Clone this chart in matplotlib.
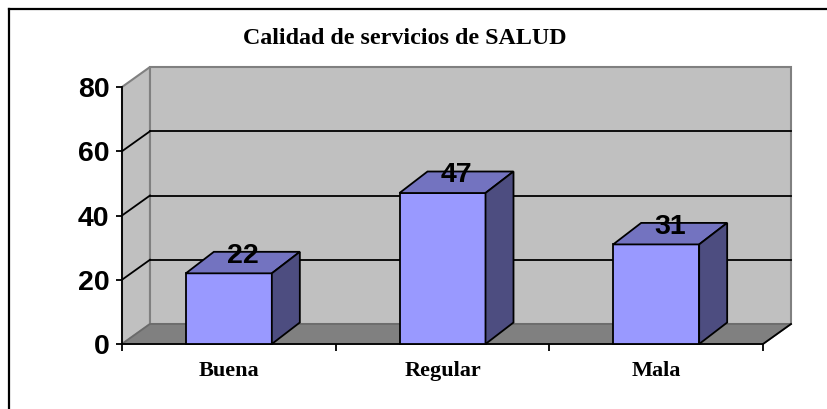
import matplotlib
matplotlib.use("Agg")
import matplotlib.pyplot as plt
from matplotlib.patches import Polygon
from matplotlib.lines import Line2D

categories = ["Buena", "Regular", "Mala"]
values = [22, 47, 31]
yticks = [0, 20, 40, 60, 80]
title = "Calidad de servicios de SALUD"

W, H = 827, 409
fig = plt.figure(figsize=(W / 100, H / 100), dpi=100)
fig.patch.set_facecolor("white")

# front plane of the 3D plot in pixels
L, R, B, T = 122, 763, 344, 87
ax = fig.add_axes([L / W, (H - B) / H, (R - L) / W, (B - T) / H])
ax.patch.set_visible(False)
n = len(categories)
ax.set_xlim(0, n)
ax.set_ylim(0, 80)

pxu_x = (R - L) / n
pxu_y = (B - T) / 80.0
dx = 28 / pxu_x
dy = 20 / pxu_y
bdx = 28 / pxu_x
bdy = 21.5 / pxu_y

wall_c = "#C0C0C0"
floor_c = "#808080"
edge_c = "#808080"

# side wall
ax.add_patch(Polygon([(0, 0), (dx, dy), (dx, 80 + dy), (0, 80)], closed=True,
                     facecolor=wall_c, edgecolor=edge_c, lw=1.5, zorder=0.5, clip_on=False))
# back wall
ax.add_patch(Polygon([(dx, dy), (n + dx, dy), (n + dx, 80 + dy), (dx, 80 + dy)], closed=True,
                     facecolor=wall_c, edgecolor=edge_c, lw=1.5, zorder=0.5, clip_on=False))
# floor
ax.add_patch(Polygon([(0, 0), (n, 0), (n + dx, dy), (dx, dy)], closed=True,
                     facecolor=floor_c, edgecolor="#6a6a6a", lw=1.2, zorder=0.55, clip_on=False))
ax.add_line(Line2D([n, n + dx], [0, dy], color="black", lw=1.3, zorder=0.7, clip_on=False))

# gridlines on back wall and side wall
for v in yticks[1:-1]:
    ax.add_line(Line2D([dx, n + dx], [v + dy, v + dy], color="black", lw=1.3, zorder=0.6, clip_on=False))
    ax.add_line(Line2D([0, dx], [v, v + dy], color="black", lw=1.3, zorder=0.6, clip_on=False))

# bars
bw = 86 / pxu_x
front_c = "#9999FF"
top_c = "#7373C0"
side_c = "#4D4D80"
for i, v in enumerate(values):
    c = i + 0.5
    x0, x1 = c - bw / 2, c + bw / 2
    ax.add_patch(Polygon([(x0, 0), (x1, 0), (x1, v), (x0, v)], closed=True,
                         facecolor=front_c, edgecolor="black", lw=1.3, zorder=3, clip_on=False))
    ax.add_patch(Polygon([(x0, v), (x1, v), (x1 + bdx, v + bdy), (x0 + bdx, v + bdy)], closed=True,
                         facecolor=top_c, edgecolor="black", lw=1.3, zorder=3, clip_on=False))
    ax.add_patch(Polygon([(x1, 0), (x1 + bdx, bdy), (x1 + bdx, v + bdy), (x1, v)], closed=True,
                         facecolor=side_c, edgecolor="black", lw=1.3, zorder=3, clip_on=False))
    ax.text(c + bdx / 2, v + bdy / 2, str(v), ha="center", va="baseline",
            fontsize=20.5, fontweight="bold", family="Liberation Sans", zorder=5)

# axes
for s in ["top", "right"]:
    ax.spines[s].set_visible(False)
for s in ["left", "bottom"]:
    ax.spines[s].set_color("black")
    ax.spines[s].set_linewidth(1.3)
    ax.spines[s].set_zorder(2.5)

ax.set_yticks(yticks)
ax.set_yticklabels([str(t) for t in yticks], fontsize=20.5, fontweight="bold", family="Liberation Sans")
ax.tick_params(axis="y", direction="out", length=4, width=1.3, pad=5)

ax.set_xticks(range(n + 1))
ax.set_xticklabels([""] * (n + 1))
ax.set_xticks([i + 0.5 for i in range(n)], minor=True)
ax.set_xticklabels(categories, minor=True, fontsize=16, fontweight="bold", family="Liberation Serif")
ax.tick_params(axis="x", which="major", direction="out", length=5, width=1.3)
ax.tick_params(axis="x", which="minor", length=0, pad=12)

fig.text(405 / W, 1 - 38 / H, title, ha="center", va="center",
         fontsize=17.3, fontweight="bold", family="Liberation Serif")

# chart border (top and left visible)
fig.add_artist(Line2D([9 / W, 9 / W], [0, 1 - 9 / H], color="black", lw=1.6, transform=fig.transFigure))
fig.add_artist(Line2D([9 / W, 1], [1 - 9 / H, 1 - 9 / H], color="black", lw=1.6, transform=fig.transFigure))

fig.savefig("out.png", dpi=100)
